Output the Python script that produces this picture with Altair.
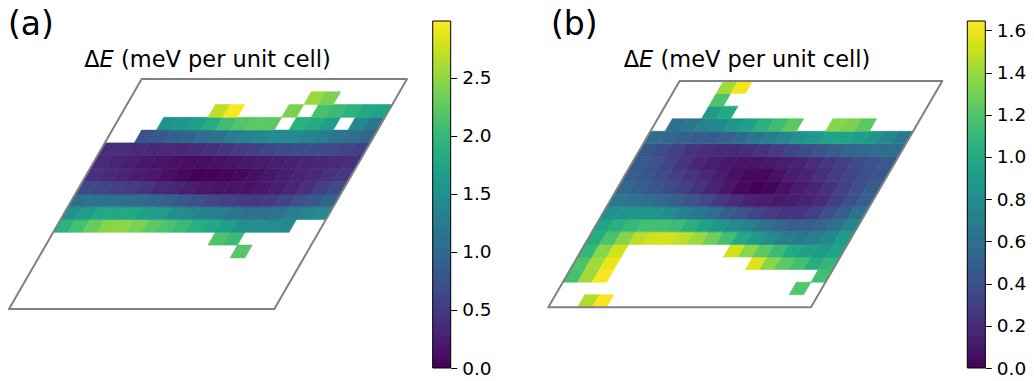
import altair as alt
import pandas as pd

# ---------------- data ----------------
N = 18                      # lattice cells along each direction
ROW_H = 0.8660254           # height of a row in lattice units (60 degree lattice)
_ = None

A_VMAX = 2.99
B_VMAX = 1.644
A_TICKS = [0.0, 0.5, 1.0, 1.5, 2.0, 2.5]
B_TICKS = [0.0, 0.2, 0.4, 0.6, 0.8, 1.0, 1.2, 1.4, 1.6]
TITLE_PRE = "Δ"
TITLE_SYM = "E"
TITLE_POST = "(meV per unit cell)"

# panel (a): rows from bottom (j = 0) to top (j = 17), 18 cells per row
A_ROWS = [
    [_] * 18,
    [_] * 18,
    [_] * 18,
    [_] * 18,
    [_, _, _, _, _, _, _, _, _, _, _, _, _, 2.21, _, _, _, _],
    [_, _, _, _, _, _, _, _, _, _, _, 2.15, 2.03, _, _, _, _, _],
    [1.94, 2.09, 2.30, 2.45, 2.48, 2.39, 2.24, 2.15, 2.03, 1.88, 1.79, 1.67, 1.50, 1.47, 1.44, 1.41, _, _],
    [1.50, 1.64, 1.79, 1.79, 1.79, 1.70, 1.64, 1.50, 1.41, 1.32, 1.26, 1.14, 1.11, 1.11, 1.14, 1.26, 1.35, 1.44],
    [1.08, 1.11, 1.11, 1.08, 1.05, 0.99, 0.90, 0.81, 0.72, 0.63, 0.57, 0.51, 0.48, 0.51, 0.60, 0.72, 0.84, 0.96],
    [0.66, 0.60, 0.57, 0.51, 0.45, 0.36, 0.30, 0.24, 0.18, 0.15, 0.15, 0.15, 0.18, 0.24, 0.30, 0.42, 0.54, 0.66],
    [0.42, 0.36, 0.30, 0.24, 0.18, 0.12, 0.06, 0.00, 0.01, 0.03, 0.06, 0.12, 0.18, 0.24, 0.30, 0.36, 0.42, 0.48],
    [0.36, 0.30, 0.24, 0.18, 0.15, 0.12, 0.09, 0.09, 0.12, 0.15, 0.18, 0.21, 0.24, 0.27, 0.30, 0.33, 0.36, 0.39],
    [0.39, 0.39, 0.36, 0.33, 0.33, 0.33, 0.36, 0.39, 0.45, 0.51, 0.57, 0.63, 0.66, 0.69, 0.69, 0.66, 0.60, 0.54],
    [_, _, 0.75, 0.81, 0.90, 0.96, 1.05, 1.14, 1.26, 1.35, 1.41, 1.44, 1.41, 1.35, 1.26, 1.17, 1.08, 0.99],
    [_, _, _, 1.50, 1.58, 1.67, 1.85, 2.06, 2.18, 2.24, 2.24, _, 1.91, 1.82, 1.67, _, 1.41, 1.20],
    [_, _, _, _, _, _, 2.69, 2.96, _, _, _, 2.39, _, 2.12, 2.03, 1.91, 1.79, 1.73],
    [_, _, _, _, _, _, _, _, _, _, _, _, 2.54, 2.39, _, _, _, _],
    [_] * 18,
]

# panel (b)
B_ROWS = [
    [_, _, 1.45, 1.63, _, _, _, _, _, _, _, _, _, _, _, _, _, _],
    [_, _, _, _, _, _, _, _, _, _, _, _, _, _, _, _, 1.20, _],
    [1.15, 1.41, 1.63, _, _, _, _, _, _, _, _, _, _, _, _, _, _, 1.15],
    [1.18, 1.41, 1.59, _, _, _, _, _, _, _, _, _, 1.56, 1.35, 1.23, 1.15, 1.02, 1.09],
    [1.09, 1.35, 1.53, _, _, _, _, _, _, _, 1.53, 1.36, 1.23, 1.12, 0.99, 0.92, 0.89, 0.95],
    [1.02, 1.18, 1.35, 1.48, 1.53, 1.53, 1.48, 1.40, 1.28, 1.15, 0.99, 0.89, 0.79, 0.69, 0.66, 0.69, 0.77, 0.90],
    [0.95, 1.04, 1.10, 1.15, 1.15, 1.12, 1.04, 0.95, 0.87, 0.79, 0.71, 0.62, 0.56, 0.49, 0.49, 0.54, 0.62, 0.74],
    [0.82, 0.85, 0.87, 0.85, 0.79, 0.72, 0.66, 0.59, 0.49, 0.41, 0.33, 0.28, 0.25, 0.25, 0.30, 0.39, 0.49, 0.62],
    [0.66, 0.62, 0.59, 0.54, 0.49, 0.43, 0.36, 0.28, 0.21, 0.15, 0.12, 0.10, 0.12, 0.15, 0.21, 0.30, 0.39, 0.49],
    [0.54, 0.49, 0.44, 0.38, 0.31, 0.25, 0.16, 0.10, 0.03, 0.00, 0.02, 0.07, 0.12, 0.16, 0.23, 0.31, 0.39, 0.48],
    [0.49, 0.44, 0.38, 0.31, 0.25, 0.18, 0.12, 0.07, 0.03, 0.03, 0.07, 0.12, 0.16, 0.23, 0.28, 0.33, 0.39, 0.44],
    [0.46, 0.41, 0.33, 0.25, 0.18, 0.13, 0.10, 0.08, 0.08, 0.10, 0.13, 0.16, 0.21, 0.26, 0.31, 0.36, 0.41, 0.46],
    [0.44, 0.38, 0.31, 0.25, 0.21, 0.20, 0.20, 0.21, 0.25, 0.28, 0.33, 0.38, 0.43, 0.48, 0.53, 0.56, 0.58, 0.58],
    [0.58, 0.54, 0.49, 0.48, 0.48, 0.51, 0.56, 0.62, 0.69, 0.76, 0.82, 0.89, 0.94, 0.95, 0.92, 0.85, 0.76, 0.66],
    [_, 0.61, 0.66, 0.72, 0.77, 0.87, 0.94, 1.05, 1.13, 1.23, _, _, 1.35, 1.32, 1.23, _, _, _],
    [_, _, _, 0.89, 0.99, _, _, _, _, _, _, _, _, _, _, _, _, _],
    [_, _, _, 1.18, _, _, _, _, _, _, _, _, _, _, _, _, _, _],
    [_, _, _, 1.41, 1.61, _, _, _, _, _, _, _, _, _, _, _, _, _],
]


def cell_table(rows):
    """Each lattice cell becomes a two-row (bottom / top edge) horizontal area."""
    recs = []
    for j, row in enumerate(rows):
        for i, v in enumerate(row):
            if v is None:
                continue
            for e in (0, 1):
                jj = j + e
                recs.append({"cell": f"{i}-{j}", "v": v, "edge_v": v, "y": jj * ROW_H,
                             "xl": i + 0.5 * jj, "xr": i + 1 + 0.5 * jj})
    return pd.DataFrame(recs)


def outline_table():
    corners = [(0, 0), (N, 0), (1.5 * N, N * ROW_H), (0.5 * N, N * ROW_H), (0, 0)]
    return pd.DataFrame([{"k": k, "x": x, "y": y} for k, (x, y) in enumerate(corners)])


def colorbar_table(vmax, steps=116):
    """Slightly overlapping slices spanning the colour scale (the colour bar)."""
    recs = []
    for s in range(steps):
        lo = vmax * s / steps
        hi = min(vmax, vmax * (s + 1.7) / steps)
        recs.append({"lo": lo, "hi": hi, "v": vmax * (s + 0.5) / steps})
    return pd.DataFrame(recs)


# ---------------- layout ----------------
FONT = "DejaVu Sans"
PANEL_H = 365
TITLE_FS = 22.5
LABEL_FS = 33
TICK_FS = 18.5
CB_TOP, CB_BOT, CB_W = 13.0, 360.0, 18.0
# DejaVu Sans advance widths (em) for title pieces (pre, symbol, space, post)
W_PRE, W_SYM, W_SP, W_POST = 0.684, 0.632, 0.318, 9.327


def panel(rows, vmax, ticks, tag, tag_x, W, x0px, x27px, ybotpx, ytoppx, cbx, title_cx):
    kx = (x27px - x0px) / (1.5 * N)
    ky = (ybotpx - ytoppx) / (N * ROW_H)
    xdom = [-x0px / kx, -x0px / kx + W / kx]
    ymin = -(PANEL_H - ybotpx) / ky
    ydom = [ymin, ymin + PANEL_H / ky]
    xs = alt.Scale(domain=xdom, nice=False, zero=False)
    ys = alt.Scale(domain=ydom, nice=False, zero=False)
    cs = alt.Scale(type="linear", scheme="viridis", domain=[0, vmax], nice=False, zero=False)

    heat = alt.Chart(cell_table(rows)).mark_area(
        orient="horizontal", strokeWidth=0.6, strokeJoin="round", fillOpacity=1
    ).encode(
        y=alt.Y("y:Q", scale=ys, axis=None),
        x=alt.X("xl:Q", scale=xs, axis=None),
        x2="xr:Q",
        detail="cell:N",
        color=alt.Color("v:Q", scale=cs, legend=None),
        stroke=alt.Stroke("edge_v:Q", scale=cs, legend=None),
    )

    border = alt.Chart(outline_table()).mark_line(
        color="#808080", strokeWidth=2, strokeJoin="round", strokeCap="round"
    ).encode(
        x=alt.X("x:Q", scale=xs, axis=None),
        y=alt.Y("y:Q", scale=ys, axis=None),
        order="k:Q",
    )

    # colour bar: its own value scale placed beside the map
    ppu = (CB_BOT - CB_TOP) / vmax
    cb_scale = alt.Scale(domain=[-(PANEL_H - CB_BOT) / ppu, vmax + CB_TOP / ppu],
                         nice=False, zero=False)
    cb_axis = alt.Axis(
        orient="right", offset=cbx + CB_W - W, values=ticks, format=".1f",
        domain=False, grid=False, ticks=True, tickSize=6, tickWidth=1,
        tickColor="black", labelFont=FONT, labelFontSize=TICK_FS,
        labelColor="black", labelPadding=5, labelOverlap=False, title=None)
    cb = alt.Chart(colorbar_table(vmax)).mark_rect(strokeWidth=0).encode(
        x=alt.value(cbx), x2=alt.value(cbx + CB_W),
        y=alt.Y("lo:Q", scale=cb_scale, axis=cb_axis),
        y2="hi:Q",
        color=alt.Color("v:Q", scale=cs, legend=None),
    )
    cb_frame = alt.Chart(pd.DataFrame({"lo": [0.0], "hi": [vmax]})).mark_rect(
        filled=False, stroke="black", strokeWidth=1
    ).encode(
        x=alt.value(cbx), x2=alt.value(cbx + CB_W),
        y=alt.Y("lo:Q", scale=cb_scale, axis=cb_axis), y2="hi:Q",
    )
    cbar = alt.layer(cb, cb_frame)

    tag_mark = alt.Chart(pd.DataFrame({"t": [tag]})).mark_text(
        font=FONT, fontSize=LABEL_FS, align="left", baseline="top", color="black"
    ).encode(text="t:N", x=alt.value(tag_x), y=alt.value(1))

    total = (W_PRE + W_SYM + W_SP + W_POST) * TITLE_FS
    start = title_cx - total / 2
    base_y = 59
    t1 = alt.Chart(pd.DataFrame({"t": [TITLE_PRE]})).mark_text(
        font=FONT, fontSize=TITLE_FS, align="left", baseline="alphabetic", color="black"
    ).encode(text="t:N", x=alt.value(start), y=alt.value(base_y))
    t2 = alt.Chart(pd.DataFrame({"t": [TITLE_SYM]})).mark_text(
        font=FONT, fontSize=TITLE_FS, fontStyle="italic", align="left",
        baseline="alphabetic", color="black"
    ).encode(text="t:N", x=alt.value(start + W_PRE * TITLE_FS), y=alt.value(base_y))
    t3 = alt.Chart(pd.DataFrame({"t": [TITLE_POST]})).mark_text(
        font=FONT, fontSize=TITLE_FS, align="left", baseline="alphabetic", color="black"
    ).encode(text="t:N", x=alt.value(start + (W_PRE + W_SYM + W_SP) * TITLE_FS),
             y=alt.value(base_y))

    return alt.layer(alt.layer(heat, border), cbar, tag_mark, t1, t2, t3).resolve_scale(
        y="independent"
    ).resolve_axis(y="independent").properties(width=W, height=PANEL_H)


pa = panel(A_ROWS, A_VMAX, A_TICKS, "(a)", 0, 530, 1.0, 399.0, 301.0, 71.0, 424.7, 199.5)
pb = panel(B_ROWS, B_VMAX, B_TICKS, "(b)", 13, 488, 10.3, 404.3, 299.3, 73.0, 429.3, 209.0)

chart = alt.hconcat(pa, pb, spacing=0).resolve_scale(
    color="independent", stroke="independent", x="independent", y="independent"
).configure_view(stroke=None).properties(padding=0)

chart.save("out.html", embed_options={"renderer": "svg", "actions": False})
